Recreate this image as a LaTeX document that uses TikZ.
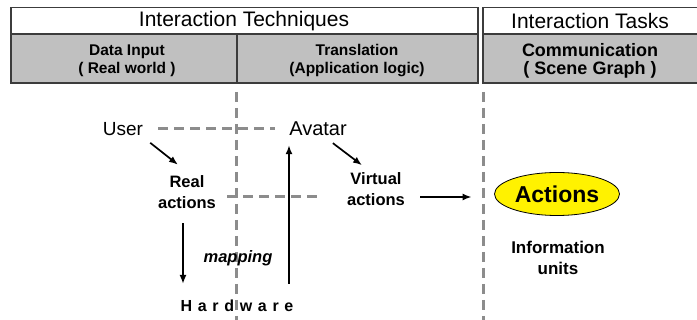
\documentclass[tikz,border=0pt]{standalone}
\usepackage{fontspec}
\setmainfont{Liberation Sans}
\usetikzlibrary{arrows.meta,shapes.geometric}
\definecolor{hdrgray}{RGB}{192,192,192}
\definecolor{framegray}{RGB}{60,60,60}
\definecolor{sepgray}{RGB}{140,140,140}
\begin{document}
\begin{tikzpicture}[x=1pt,y=-1pt,
  frame/.style={draw=framegray,line width=1.3pt},
  sep/.style={draw=sepgray,line width=3pt,dash pattern=on 10pt off 6pt},
  arr/.style={draw=black,line width=1.7pt,-{Latex[length=9pt,width=7pt]}},
  hdr/.style={inner sep=0pt,font=\fontsize{21}{24}\selectfont},
  sub/.style={inner sep=0pt,align=center,font=\bfseries\fontsize{15.5}{18}\selectfont},
  word/.style={inner sep=2pt,font=\fontsize{19}{22}\selectfont},
  lbl/.style={inner sep=2pt,align=center,font=\bfseries\fontsize{16.5}{21}\selectfont},
  ovalnode/.style={ellipse,draw=black,line width=0.8pt,fill=yellow,minimum width=125pt,minimum height=43pt,inner sep=0pt,font=\bfseries\fontsize{23}{26}\selectfont}]
\clip (0,0) rectangle (697,320);
% header boxes
\path[frame,fill=hdrgray] (11,34) rectangle (478,83);
\path[frame,fill=white] (11,7.5) rectangle (478,34);
\draw[frame] (237,34) -- (237,83);
\path[frame,fill=hdrgray] (483,34) rectangle (702,83);
\path[frame,fill=white] (483,7.5) rectangle (702,34);
\node[hdr] (hdrT) at (244,21) {Interaction Techniques};
\node[hdr] (hdrK) at (590,21) {Interaction Tasks};
\node[sub] (subA) at (127,61) {Data Input\\( Real world )};
\node[sub] (subB) at (357,61) {Translation\\(Application logic)};
\node[sub,font=\bfseries\fontsize{18}{18}\selectfont] (subC) at (590,61) {Communication\\( Scene Graph )};
% separators
\coordinate (s1a) at (236,92);
\coordinate (s1b) at (236,322);
\coordinate (s2a) at (483,92);
\coordinate (s2b) at (483,322);
\draw[sep] (s1a) -- (s1b);
\draw[sep] (s2a) -- (s2b);
% nodes
\node[word] (user) at (123,129) {User};
\node[word,font=\fontsize{20}{22}\selectfont] (avatar) at (318,129) {Avatar};
\node[lbl] (real) at (187,192.5) {Real\\actions};
\node[lbl] (virtual) at (376,189) {Virtual\\actions};
\node[ovalnode] (actions) at (557,194) {Actions};
\node[lbl,font=\bfseries\fontsize{17}{21}\selectfont] (info) at (558,258) {Information\\units};
\node[inner sep=2pt,font=\bfseries\itshape\fontsize{16.5}{20}\selectfont] (mapping) at (238,258) {mapping};
\node[inner sep=2pt,font=\bfseries\fontsize{16}{19}\selectfont] (hardware) at (237,306) {H\kern5.7pt a\kern5.7pt r\kern5.7pt d\kern5.7pt w\kern5.7pt a\kern5.7pt r\kern5.7pt e};
% dashed links
\draw[sep] ([xshift=13pt]user.east) -- ([xshift=-12pt]avatar.west);
\coordinate (h1) at (227,197);
\coordinate (h2) at (323,197);
\draw[sep] (h1) -- (h2);
% arrows
\draw[arr] ([xshift=5pt,yshift=-5pt]user.south east) -- ([xshift=-9pt,yshift=9pt]real.north);
\draw[arr] ([xshift=-16pt,yshift=-5pt]avatar.south east) -- ([xshift=-14pt,yshift=5pt]virtual.north);
\draw[arr] ([xshift=13pt,yshift=-8pt]virtual.east) -- ([yshift=-3pt]actions.west) [shorten >=22.5pt];
\draw[arr] ([xshift=-4pt,yshift=-12pt]real.south) -- ([xshift=-54pt,yshift=14pt]hardware.north);
\draw[arr] ([xshift=52pt,yshift=14pt]hardware.north) -- ([xshift=-29pt,yshift=-7pt]avatar.south);
\end{tikzpicture}
\end{document}
